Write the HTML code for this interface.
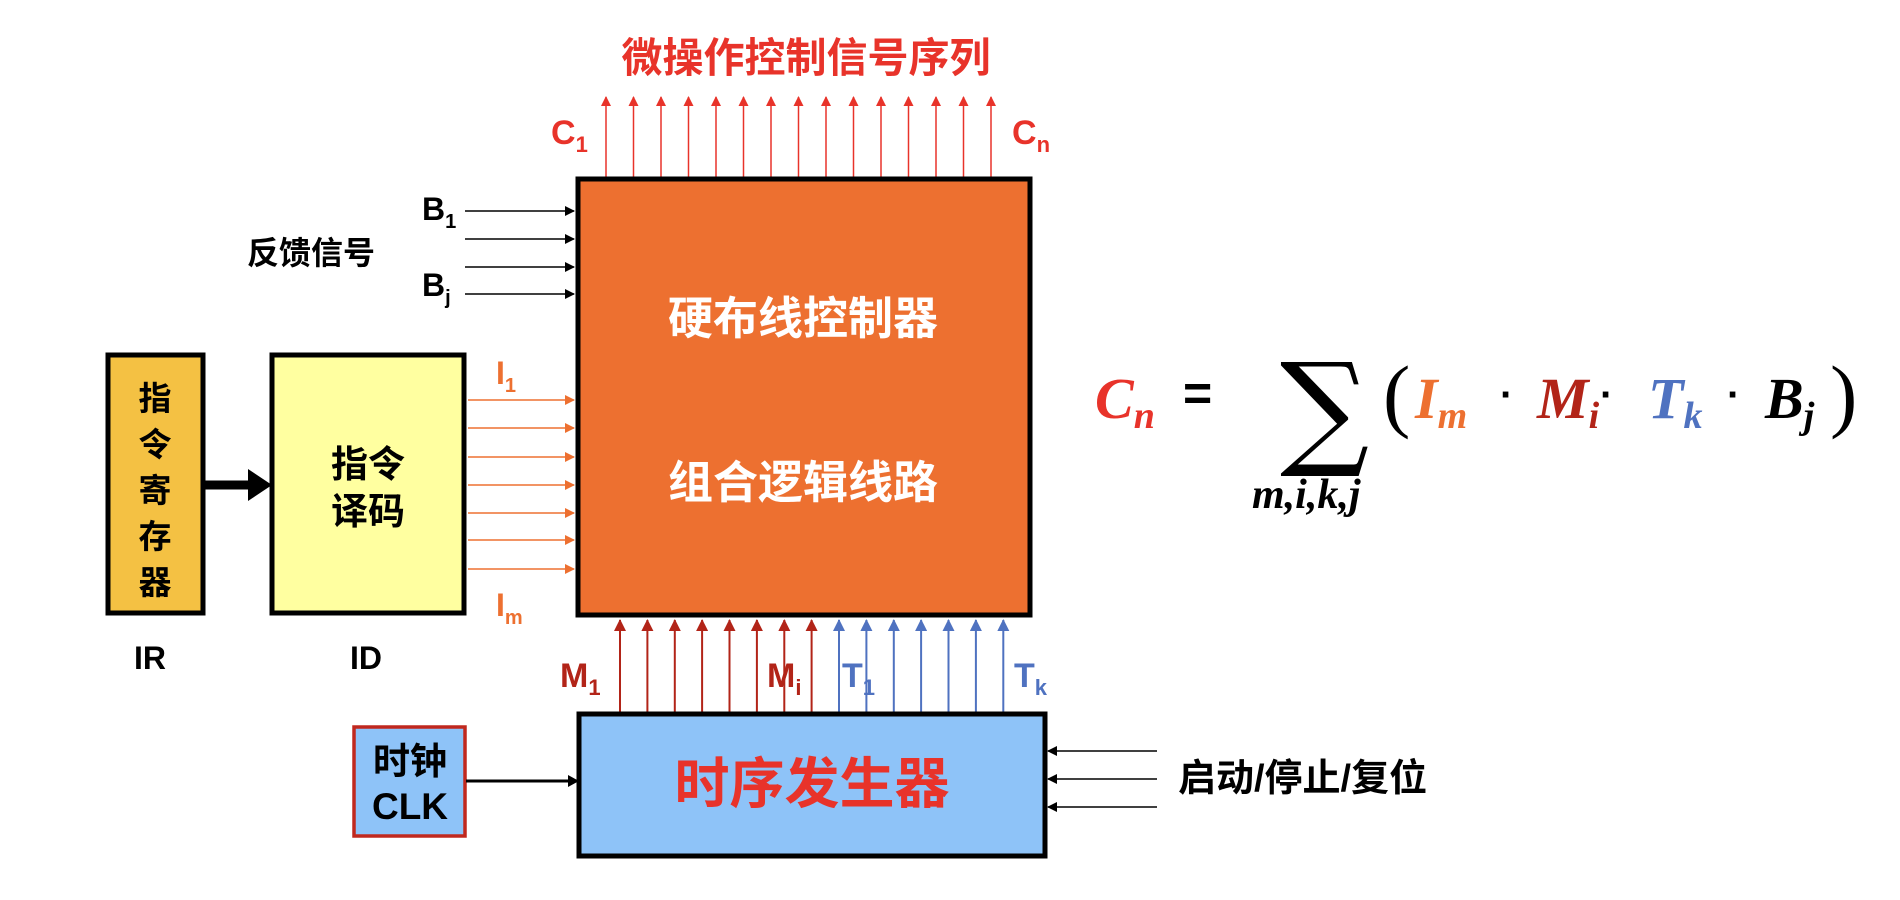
<!DOCTYPE html>
<html><head><meta charset="utf-8"><style>
html,body{margin:0;padding:0;background:#fff;width:1900px;height:900px;overflow:hidden}
svg{display:block}
text{font-family:"Liberation Sans","Noto Sans CJK SC",sans-serif;font-weight:bold}
.m{font-family:"Liberation Serif","DejaVu Serif",serif;font-style:italic;font-weight:bold}
</style></head><body>
<svg width="1900" height="900" viewBox="0 0 1900 900" xmlns="http://www.w3.org/2000/svg">
<defs>
<marker id="ar" markerWidth="10" markerHeight="10" refX="9" refY="5" orient="auto" markerUnits="userSpaceOnUse"><path d="M0,0 L10,5 L0,10 z" fill="#e8332a"/></marker>
<marker id="ak" markerWidth="10" markerHeight="10" refX="9" refY="5" orient="auto" markerUnits="userSpaceOnUse"><path d="M0,0 L10,5 L0,10 z" fill="#000"/></marker>
<marker id="ao" markerWidth="10" markerHeight="10" refX="9" refY="5" orient="auto" markerUnits="userSpaceOnUse"><path d="M0,0 L10,5 L0,10 z" fill="#ed7030"/></marker>
<marker id="ad" markerWidth="12" markerHeight="12" refX="11" refY="6" orient="auto" markerUnits="userSpaceOnUse"><path d="M0,0 L12,6 L0,12 z" fill="#b22418"/></marker>
<marker id="ab" markerWidth="12" markerHeight="12" refX="11" refY="6" orient="auto" markerUnits="userSpaceOnUse"><path d="M0,0 L12,6 L0,12 z" fill="#4f72c0"/></marker>
</defs>

<text x="806" y="72" font-size="41" fill="#e8332a" text-anchor="middle">微操作控制信号序列</text>
<g stroke="#e8332a" stroke-width="1.5" marker-end="url(#ar)">
<line x1="606" y1="178" x2="606" y2="97"/><line x1="633.5" y1="178" x2="633.5" y2="97"/><line x1="661" y1="178" x2="661" y2="97"/><line x1="688.5" y1="178" x2="688.5" y2="97"/><line x1="716" y1="178" x2="716" y2="97"/><line x1="743.5" y1="178" x2="743.5" y2="97"/><line x1="771" y1="178" x2="771" y2="97"/><line x1="798.5" y1="178" x2="798.5" y2="97"/><line x1="826" y1="178" x2="826" y2="97"/><line x1="853.5" y1="178" x2="853.5" y2="97"/><line x1="881" y1="178" x2="881" y2="97"/><line x1="908.5" y1="178" x2="908.5" y2="97"/><line x1="936" y1="178" x2="936" y2="97"/><line x1="963.5" y1="178" x2="963.5" y2="97"/><line x1="991" y1="178" x2="991" y2="97"/>
</g>
<text x="551" y="144" font-size="34" fill="#e8332a">C<tspan font-size="22" dy="8">1</tspan></text>
<text x="1012" y="144" font-size="34" fill="#e8332a">C<tspan font-size="22" dy="8">n</tspan></text>

<rect x="578" y="179" width="452" height="436" fill="#ed7030" stroke="#000" stroke-width="5"/>
<text x="803" y="334" font-size="45" fill="#fff" text-anchor="middle">硬布线控制器</text>
<text x="803" y="498" font-size="45" fill="#fff" text-anchor="middle">组合逻辑线路</text>

<g stroke="#000" stroke-width="1.5" marker-end="url(#ak)">
<line x1="465" y1="211" x2="574" y2="211"/><line x1="465" y1="239" x2="574" y2="239"/><line x1="465" y1="267" x2="574" y2="267"/><line x1="465" y1="294" x2="574" y2="294"/>
</g>
<text x="422" y="220" font-size="32" fill="#000">B<tspan font-size="20" dy="8">1</tspan></text>
<text x="422" y="296" font-size="32" fill="#000">B<tspan font-size="20" dy="8">j</tspan></text>
<text x="311" y="264" font-size="32" fill="#000" text-anchor="middle">反馈信号</text>

<g stroke="#ed7030" stroke-width="1.5" marker-end="url(#ao)">
<line x1="468" y1="400" x2="574" y2="400"/><line x1="468" y1="428" x2="574" y2="428"/><line x1="468" y1="457" x2="574" y2="457"/><line x1="468" y1="485" x2="574" y2="485"/><line x1="468" y1="513" x2="574" y2="513"/><line x1="468" y1="540" x2="574" y2="540"/><line x1="468" y1="569" x2="574" y2="569"/>
</g>
<text x="496" y="384" font-size="32" fill="#ed7030">I<tspan font-size="20" dy="8">1</tspan></text>
<text x="496" y="616" font-size="32" fill="#ed7030">I<tspan font-size="20" dy="8">m</tspan></text>

<rect x="108" y="355" width="95" height="258" fill="#f4c143" stroke="#000" stroke-width="5"/>
<g font-size="33" fill="#000" text-anchor="middle">
<text x="155" y="410">指</text><text x="155" y="456">令</text><text x="155" y="502">寄</text><text x="155" y="548">存</text><text x="155" y="594">器</text>
</g>
<rect x="272" y="355" width="192" height="258" fill="#ffffa0" stroke="#000" stroke-width="5"/>
<text x="368" y="477" font-size="37" fill="#000" text-anchor="middle">指令</text>
<text x="368" y="524" font-size="37" fill="#000" text-anchor="middle">译码</text>
<line x1="205" y1="485" x2="250" y2="485" stroke="#000" stroke-width="9"/>
<path d="M248,469 L272,485 L248,501 z" fill="#000"/>
<text x="150" y="669" font-size="32" fill="#000" text-anchor="middle">IR</text>
<text x="366" y="669" font-size="32" fill="#000" text-anchor="middle">ID</text>

<g stroke="#b22418" stroke-width="2" marker-end="url(#ad)">
<line x1="620" y1="713" x2="620" y2="620"/><line x1="647.4" y1="713" x2="647.4" y2="620"/><line x1="674.8" y1="713" x2="674.8" y2="620"/><line x1="702.1" y1="713" x2="702.1" y2="620"/><line x1="729.5" y1="713" x2="729.5" y2="620"/><line x1="756.9" y1="713" x2="756.9" y2="620"/><line x1="784.3" y1="713" x2="784.3" y2="620"/><line x1="811.6" y1="713" x2="811.6" y2="620"/>
</g>
<g stroke="#4f72c0" stroke-width="2" marker-end="url(#ab)">
<line x1="839" y1="713" x2="839" y2="620"/><line x1="866.4" y1="713" x2="866.4" y2="620"/><line x1="893.8" y1="713" x2="893.8" y2="620"/><line x1="921.1" y1="713" x2="921.1" y2="620"/><line x1="948.5" y1="713" x2="948.5" y2="620"/><line x1="975.9" y1="713" x2="975.9" y2="620"/><line x1="1003.3" y1="713" x2="1003.3" y2="620"/>
</g>
<text x="560" y="687" font-size="34" fill="#b22418">M<tspan font-size="22" dy="8">1</tspan></text>
<text x="767" y="687" font-size="34" fill="#b22418">M<tspan font-size="22" dy="8">i</tspan></text>
<text x="842" y="687" font-size="34" fill="#4f72c0">T<tspan font-size="22" dy="8">1</tspan></text>
<text x="1014" y="687" font-size="34" fill="#4f72c0">T<tspan font-size="22" dy="8">k</tspan></text>

<rect x="579" y="714" width="466" height="142" fill="#8ec3f8" stroke="#000" stroke-width="5"/>
<text x="812" y="803" font-size="55" fill="#e8332a" text-anchor="middle">时序发生器</text>

<rect x="354" y="727" width="111" height="109" fill="#8ec3f8" stroke="#c0281e" stroke-width="3.5"/>
<text x="410" y="774" font-size="37" fill="#000" text-anchor="middle">时钟</text>
<text x="410" y="819" font-size="37" fill="#000" text-anchor="middle">CLK</text>
<line x1="466" y1="781" x2="570" y2="781" stroke="#000" stroke-width="3"/>
<path d="M568,775 L579,781 L568,787 z" fill="#000"/>

<g stroke="#000" stroke-width="1.5" marker-end="url(#ak)">
<line x1="1157" y1="751" x2="1048" y2="751"/><line x1="1157" y1="779" x2="1048" y2="779"/><line x1="1157" y1="807" x2="1048" y2="807"/>
</g>
<text x="1178" y="791" font-size="38" fill="#000">启动/停止/复位</text>

<g>
<text x="1095" y="418" font-size="58" fill="#e8332a" class="m">C<tspan font-size="38" dy="10">n</tspan></text>
<text x="1183" y="410" font-size="50" fill="#000">=</text>
<text x="1280" y="452" font-size="125" fill="#000" style="font-family:'DejaVu Serif',serif;font-weight:normal">∑</text>
<text x="1252" y="508" font-size="42" fill="#000" class="m">m,i,k,j</text>
<text x="1383" y="422" font-size="82" fill="#000" style="font-family:'Liberation Serif',serif;font-weight:normal">(</text>
<text x="1415" y="418" font-size="58" fill="#ed7030" class="m">I<tspan font-size="38" dy="10">m</tspan></text>
<text x="1500" y="408" font-size="40" fill="#000">·</text>
<text x="1537" y="418" font-size="58" fill="#b22418" class="m">M<tspan font-size="38" dy="10">i</tspan></text>
<text x="1600" y="408" font-size="40" fill="#000">·</text>
<text x="1648" y="418" font-size="58" fill="#4f72c0" class="m">T<tspan font-size="38" dy="10">k</tspan></text>
<text x="1727" y="408" font-size="40" fill="#000">·</text>
<text x="1765" y="418" font-size="58" fill="#000" class="m">B<tspan font-size="38" dy="10">j</tspan></text>
<text x="1830" y="422" font-size="82" fill="#000" style="font-family:'Liberation Serif',serif;font-weight:normal">)</text>
</g>
</svg>
</body></html>
